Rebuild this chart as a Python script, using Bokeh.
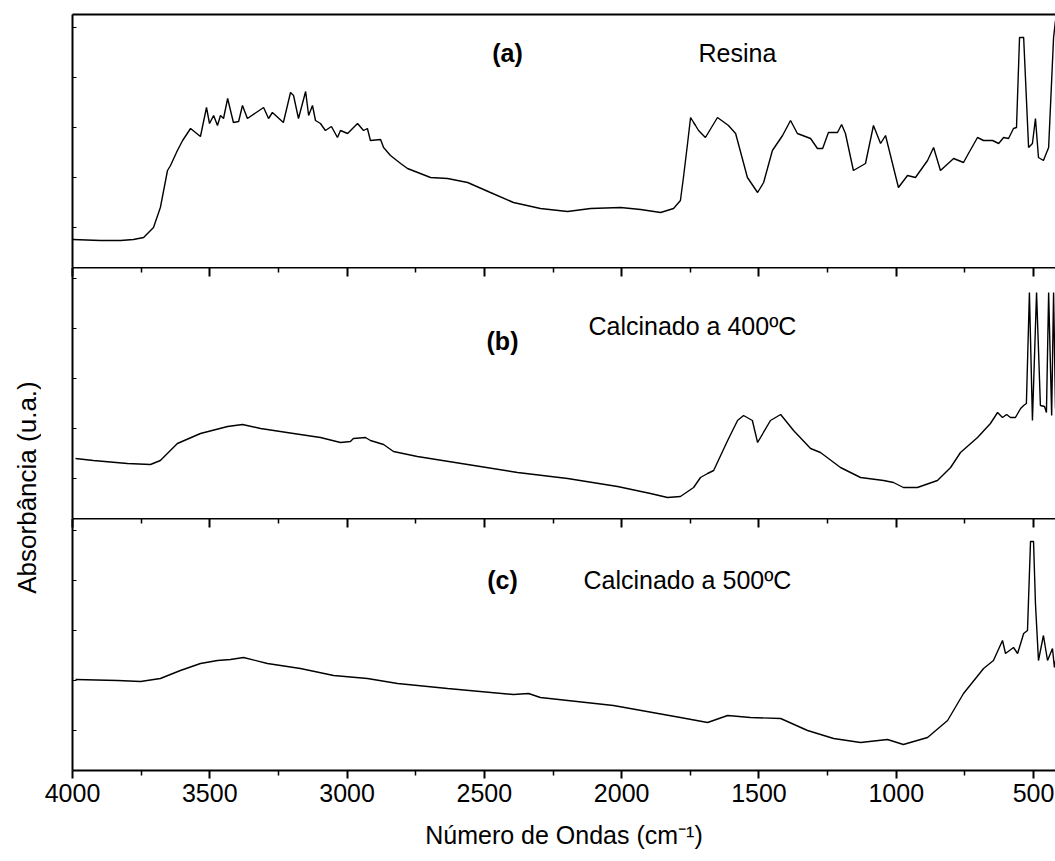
import math
from bokeh.plotting import figure
from bokeh.models import Range1d, FixedTicker, LinearAxis, Label, CustomJSTickFormatter
from bokeh.layouts import column, row
from bokeh.embed import file_html
from bokeh.resources import INLINE

# ---------------- data ----------------
# (a) Resina
wn_a = [4000, 3898, 3825, 3778, 3741, 3705, 3680, 3654, 3643, 3618,
        3599, 3570, 3534, 3512, 3501, 3486, 3472, 3461, 3450, 3435,
        3414, 3395, 3381, 3363, 3304, 3286, 3272, 3232, 3206, 3195,
        3177, 3151, 3140, 3126, 3115, 3097, 3079, 3057, 3035, 3024,
        2998, 2962, 2940, 2926, 2915, 2878, 2867, 2842, 2805, 2780,
        2696, 2634, 2561, 2478, 2394, 2296, 2197, 2113, 2004, 1931,
        1858, 1811, 1786, 1775, 1760, 1749, 1738, 1731, 1720, 1695,
        1651, 1611, 1585, 1542, 1505, 1483, 1451, 1414, 1385, 1360,
        1312, 1287, 1268, 1247, 1214, 1199, 1185, 1156, 1112, 1083,
        1057, 1039, 992, 959, 930, 886, 864, 839, 791, 755,
        737, 704, 682, 649, 627, 609, 591, 573, 562, 551,
        536, 518, 504, 493, 482, 464, 445, 427, 420]
abs_a = [28, 27, 27, 28, 30, 40, 60, 97, 102, 117,
         127, 139, 131, 160, 144, 152, 142, 152, 149, 169,
         145, 146, 162, 149, 160, 149, 155, 145, 175, 172,
         149, 176, 152, 162, 147, 144, 137, 141, 130, 137,
         134, 144, 137, 139, 127, 128, 120, 112, 104, 99,
         90, 89, 85, 75, 65, 59, 56, 59, 60, 58,
         55, 59, 67, 90, 124, 150, 145, 142, 137, 130,
         150, 142, 134, 90, 75, 85, 117, 132, 147, 134,
         129, 119, 119, 135, 135, 143, 134, 97, 104, 142,
         124, 132, 80, 92, 90, 107, 120, 97, 109, 105,
         114, 130, 127, 127, 124, 130, 129, 139, 140, 230,
         230, 120, 124, 149, 110, 107, 120, 230, 247]

# (b) Calcinado a 400 ºC
wn_b = [3989, 3924, 3800, 3716, 3680, 3618, 3534, 3435, 3381, 3315,
        3195, 3097, 3024, 2988, 2977, 2933, 2915, 2867, 2831, 2744,
        2561, 2379, 2197, 2015, 1895, 1833, 1786, 1738, 1713, 1687,
        1665, 1614, 1578, 1556, 1524, 1505, 1458, 1421, 1374, 1312,
        1276, 1203, 1130, 1046, 1010, 974, 923, 850, 802, 766,
        704, 657, 631, 613, 598, 584, 566, 547, 536, 526,
        515, 504, 489, 475, 460, 453, 445, 434, 427, 420]
abs_b = [60, 58, 55, 54, 58, 75, 85, 92, 94, 90,
         85, 81, 76, 77, 80, 81, 78, 74, 67, 62,
         54, 46, 40, 32, 25, 21, 22, 31, 41, 45,
         48, 78, 98, 103, 98, 76, 98, 104, 88, 70,
         66, 51, 41, 38, 36, 31, 31, 38, 51, 66,
         81, 95, 106, 101, 104, 101, 101, 110, 113, 115,
         226, 98, 226, 113, 112, 106, 226, 103, 226, 110]

# (c) Calcinado a 500 ºC
wn_c = [3989, 3836, 3752, 3680, 3607, 3534, 3472, 3425, 3377, 3290,
        3170, 3049, 2926, 2816, 2634, 2394, 2339, 2296, 2030, 1786,
        1687, 1614, 1531, 1421, 1323, 1228, 1130, 1032, 974, 886,
        813, 755, 682, 646, 613, 602, 573, 558, 536, 522,
        511, 500, 493, 482, 464, 449, 431, 424, 420]
abs_c = [91, 90, 89, 92, 100, 107, 110, 111, 113, 107,
         102, 95, 92, 87, 82, 76, 77, 73, 65, 53,
         48, 55, 53, 52, 40, 32, 28, 31, 26, 33,
         50, 77, 102, 110, 130, 117, 123, 117, 137, 140,
         229, 229, 167, 110, 135, 110, 122, 103, 110]

x_major_ticks = [4000, 3500, 3000, 2500, 2000, 1500, 1000, 500]
x_minor_ticks = [3750, 3250, 2750, 2250, 1750, 1250, 750]

panel_tags = ["(a)", "(b)", "(c)"]
panel_names = ["Resina", "Calcinado a 400ºC", "Calcinado a 500ºC"]
tag_x = [2416, 2434, 2434]
tag_y = [215, 178, 191]
name_x = [1720, 2121, 2139]
name_y = [215, 193, 191]

x_label = "Número de Ondas (cm⁻¹)"
y_label = "Absorbância (u.a.)"

# ---------------- styling ----------------
FONT = "Liberation Sans"
FRAME_W = 983
STRIP_W = 41
PANEL_LEFT = 31
PAGE_H = 861
x_range = Range1d(4000, 420)
blank = CustomJSTickFormatter(code="return ''")


def bare_axis(ax):
    ax.formatter = blank
    ax.major_label_standoff = 0
    ax.axis_line_width = 2
    ax.axis_line_color = "black"


def make_panel(h, top_border):
    p = figure(frame_width=FRAME_W, frame_height=h, x_range=x_range,
               y_range=Range1d(0, h), output_backend="svg",
               toolbar_location=None, x_axis_location=None,
               y_axis_location=None, min_border_left=PANEL_LEFT,
               min_border_right=0, min_border_top=top_border,
               min_border_bottom=0, outline_line_color=None,
               background_fill_color="white", border_fill_color="white")
    for g in list(p.center):
        g.visible = False
    left = LinearAxis(ticker=FixedTicker(ticks=[40, 90, 140, 190, 240]),
                      major_tick_in=4, major_tick_out=0,
                      minor_tick_in=0, minor_tick_out=0,
                      major_tick_line_width=1)
    bare_axis(left)
    p.add_layout(left, "left")
    return p


def top_axis(p, with_ticks):
    ax = LinearAxis(ticker=FixedTicker(ticks=x_major_ticks if with_ticks else [],
                                       minor_ticks=x_minor_ticks if with_ticks else []),
                    major_tick_in=9 if with_ticks else 0, major_tick_out=0,
                    minor_tick_in=5 if with_ticks else 0, minor_tick_out=0,
                    major_tick_line_width=2, minor_tick_line_width=1.5)
    bare_axis(ax)
    p.add_layout(ax, "above")


pa = make_panel(253, 14)
top_axis(pa, False)
pb = make_panel(251, 0)
top_axis(pb, True)
pc = make_panel(252, 0)
top_axis(pc, True)

bottom = LinearAxis(ticker=FixedTicker(ticks=x_major_ticks, minor_ticks=x_minor_ticks),
                    major_tick_in=0, major_tick_out=8,
                    minor_tick_in=0, minor_tick_out=5,
                    major_tick_line_width=2, minor_tick_line_width=1.5,
                    axis_line_width=2,
                    major_label_text_font=FONT, major_label_text_font_size="25px",
                    major_label_text_color="black", major_label_standoff=5,
                    axis_label=x_label, axis_label_text_font=FONT,
                    axis_label_text_font_size="25px",
                    axis_label_text_font_style="normal",
                    axis_label_text_color="black", axis_label_standoff=16)
pc.add_layout(bottom, "below")

series = [(pa, wn_a, abs_a), (pb, wn_b, abs_b), (pc, wn_c, abs_c)]
for i, (p, xs, ys) in enumerate(series):
    p.line(xs, ys, line_color="black", line_width=1.4)
    p.add_layout(Label(x=tag_x[i], y=tag_y[i], text=panel_tags[i],
                       text_font=FONT, text_font_size="25px",
                       text_font_style="bold", text_align="center",
                       text_baseline="middle", text_color="black"))
    p.add_layout(Label(x=name_x[i], y=name_y[i], text=panel_names[i],
                       text_font=FONT, text_font_size="25px",
                       text_align="left", text_baseline="middle",
                       text_color="black"))

# narrow strip on the left carrying the y-axis title
lab = figure(frame_width=STRIP_W, frame_height=PAGE_H,
             x_range=Range1d(0, STRIP_W), y_range=Range1d(PAGE_H, 0),
             output_backend="svg", toolbar_location=None,
             x_axis_location=None, y_axis_location=None,
             min_border=0, outline_line_color=None,
             background_fill_color="white", border_fill_color="white")
for g in list(lab.center):
    g.visible = False
lab.add_layout(Label(x=26, y=487, text=y_label, angle=math.pi / 2,
                     text_font=FONT, text_font_size="26px",
                     text_align="center", text_baseline="middle",
                     text_color="black"))

layout = row(lab, column(pa, pb, pc, spacing=0), spacing=0)
open("out.html", "w").write(file_html(layout, INLINE))
